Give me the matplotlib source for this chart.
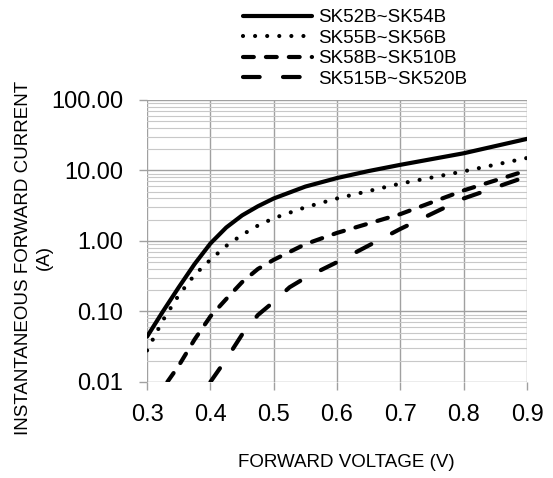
import matplotlib
matplotlib.use('Agg')
import matplotlib.pyplot as plt
from matplotlib.ticker import FixedLocator, LogLocator, NullFormatter

plt.rcParams['font.family'] = ['Liberation Sans', 'DejaVu Sans']

# Forward voltage (V) and current (A).
sk52_v = [0.30, 0.325, 0.35, 0.375, 0.40, 0.425, 0.45, 0.475, 0.50, 0.55, 0.60, 0.65, 0.70, 0.80, 0.90]
sk52_i = [0.044, 0.10, 0.22, 0.47, 0.92, 1.55, 2.3, 3.1, 4.0, 5.9, 7.8, 9.8, 12.0, 17.5, 28.0]

sk55_v = [0.30, 0.325, 0.35, 0.375, 0.40, 0.425, 0.45, 0.475, 0.50, 0.55, 0.60, 0.70, 0.80, 0.90]
sk55_i = [0.028, 0.075, 0.17, 0.33, 0.54, 0.85, 1.22, 1.65, 2.1, 3.0, 4.0, 6.5, 9.7, 15.0]

sk58_v = [0.332, 0.35, 0.375, 0.40, 0.425, 0.45, 0.475, 0.50, 0.55, 0.60, 0.70, 0.80, 0.90]
sk58_i = [0.01, 0.017, 0.04, 0.085, 0.15, 0.26, 0.40, 0.54, 0.9, 1.3, 2.4, 5.2, 10.0]

sk515_v = [0.40, 0.425, 0.45, 0.475, 0.50, 0.525, 0.55, 0.60, 0.70, 0.80, 0.90]
sk515_i = [0.01, 0.021, 0.047, 0.089, 0.137, 0.22, 0.30, 0.50, 1.48, 4.0, 8.2]

labels = ['SK52B~SK54B', 'SK55B~SK56B', 'SK58B~SK510B', 'SK515B~SK520B']
x_ticks = [0.3, 0.4, 0.5, 0.6, 0.7, 0.8, 0.9]
y_ticks = [0.01, 0.1, 1, 10, 100]
y_tick_labels = ['0.01', '0.10', '1.00', '10.00', '100.00']

fig = plt.figure(figsize=(5.53, 4.78), dpi=100)
ax = fig.add_axes([0.266, 0.201, 0.687, 0.590])

lw = 3
ax.plot(sk52_v, sk52_i, color='black', lw=lw, solid_capstyle='round', label=labels[0])
ax.plot(sk55_v, sk55_i, color='black', lw=lw, ls=(0, (0.001, 2.9)), dash_capstyle='round', label=labels[1])
ax.plot(sk58_v, sk58_i, color='black', lw=lw, ls=(0, (2.6, 2.9)), dash_capstyle='round', label=labels[2])
ax.plot(sk515_v, sk515_i, color='black', lw=lw, ls=(0, (4.0, 5.6)), dash_capstyle='round', label=labels[3])

ax.set_yscale('log')
ax.set_xlim(0.3, 0.9)
ax.set_ylim(0.01, 100)

ax.xaxis.set_major_locator(FixedLocator(x_ticks))
ax.set_xticklabels(['%.1f' % v for v in x_ticks])
ax.yaxis.set_major_locator(FixedLocator(y_ticks))
ax.set_yticklabels(y_tick_labels)
ax.yaxis.set_minor_locator(LogLocator(base=10, subs=range(2, 10)))
ax.yaxis.set_minor_formatter(NullFormatter())

ax.grid(True, which='major', color='#a0a0a0', lw=1.0)
ax.grid(True, which='minor', axis='y', color='#c8c8c8', lw=0.8)
ax.set_axisbelow(True)
for s in ax.spines.values():
    s.set_visible(False)

ax.tick_params(axis='both', which='major', length=6, width=1, color='#a0a0a0', labelsize=17)
ax.tick_params(axis='x', pad=10)
ax.tick_params(axis='y', pad=11)
ax.tick_params(axis='y', which='minor', length=0)

fig.text(0.627, 0.033, 'FORWARD VOLTAGE (V)', ha='center', va='center', fontsize=13.5)
fig.text(0.062, 0.461, 'INSTANTANEOUS FORWARD CURRENT\n(A)', ha='center', va='center',
         rotation=90, fontsize=13.5, linespacing=1.3)

fig.legend(loc='upper left', bbox_to_anchor=(243 / 553, 1 - 9 / 478), frameon=False,
           fontsize=13.5, handlelength=3.7, handletextpad=0.3, labelspacing=0.18,
           borderpad=0, borderaxespad=0)

fig.savefig('out.png', dpi=100)
